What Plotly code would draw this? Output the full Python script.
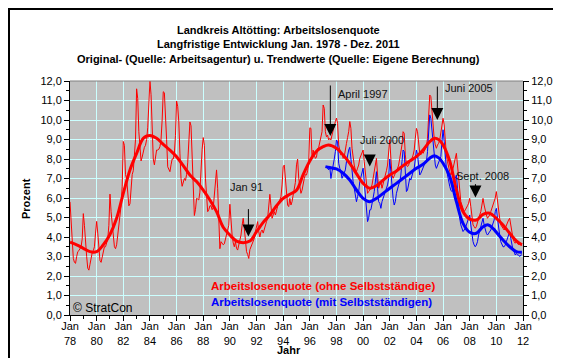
import plotly.graph_objects as go

# ---------------- data ----------------
# Monthly unemployment rate, red: "ohne Selbstständige", Jan 1978 - Dec 2011
red_monthly = [
    5.8, 4.9, 3.9, 2.9, 2.7, 2.65, 3.0, 3.25, 3.3, 3.4, 3.5, 3.9,          # 1978
    5.2, 4.6, 3.6, 3.0, 2.4, 2.3, 2.6, 3.0, 3.2, 3.3, 3.5, 4.2,            # 1979
    4.8, 4.2, 3.4, 2.8, 2.7, 3.0, 3.3, 3.5, 3.5, 3.7, 3.9, 4.6,            # 1980
    6.2, 5.3, 4.6, 3.9, 3.5, 3.4, 3.6, 4.1, 4.6, 4.9, 5.6, 6.6,            # 1981
    8.9, 8.7, 7.2, 7.0, 6.3, 5.6, 5.7, 6.5, 7.2, 7.4, 8.0, 9.0,            # 1982
    11.6, 11.1, 9.4, 8.6, 7.9, 8.1, 8.4, 8.6, 8.7, 9.0, 9.6, 10.5,         # 1983
    12.0, 11.3, 9.5, 8.0, 7.7, 8.0, 8.46, 8.46, 8.5, 8.63, 9.0, 10.0,      # 1984
    11.45, 11.4, 10.4, 9.0, 7.6, 7.5, 7.35, 7.7, 8.0, 8.0, 8.3, 9.2,       # 1985
    10.97, 10.7, 9.9, 8.3, 7.0, 6.6, 6.8, 7.0, 6.9, 7.2, 7.8, 8.9,         # 1986
    9.9, 9.7, 7.8, 6.3, 5.1, 5.4, 5.98, 5.95, 5.9, 6.3, 7.86, 8.5,         # 1987
    9.1, 8.7, 7.0, 5.98, 5.3, 5.4, 5.6, 5.6, 5.4, 5.5, 6.2, 7.2,           # 1988
    7.44, 6.5, 5.0, 3.4, 3.76, 3.7, 3.6, 3.65, 3.9, 4.2, 4.4, 4.6,         # 1989
    5.68, 4.6, 4.1, 3.7, 3.5, 3.76, 3.42, 3.33, 3.6, 3.9, 4.1, 4.6,        # 1990
    4.96, 4.44, 3.6, 3.25, 3.1, 2.9, 3.35, 3.5, 3.6, 3.76, 3.93, 4.27,     # 1991
    4.58, 4.79, 4.27, 4.0, 4.27, 4.36, 4.2, 4.44, 4.7, 4.79, 4.96, 5.6,    # 1992
    6.19, 5.6, 4.96, 5.13, 5.3, 5.13, 5.38, 5.56, 5.8, 5.9, 6.07, 6.67,    # 1993
    7.6, 7.69, 7.0, 6.3, 5.64, 5.56, 5.98, 5.64, 5.81, 6.15, 6.4, 6.8,     # 1994
    7.7, 8.0, 7.0, 6.67, 6.24, 6.4, 6.84, 7.0, 7.2, 7.18, 7.4, 7.8,        # 1995
    9.6, 9.57, 8.03, 8.46, 8.2, 8.03, 8.1, 8.5, 8.6, 8.9, 9.0, 9.4,        # 1996
    10.77, 10.6, 9.4, 9.14, 9.22, 8.98, 9.06, 8.98, 9.23, 9.5, 9.7, 9.92,  # 1997
    10.1, 9.83, 8.72, 8.46, 8.2, 8.29, 8.03, 8.12, 8.38, 8.8, 9.1, 9.4,    # 1998
    9.92, 9.57, 8.55, 8.03, 7.69, 7.44, 7.35, 7.53, 7.69, 8.03, 8.2, 8.38, # 1999
    8.46, 7.86, 7.35, 6.5, 6.24, 6.33, 6.41, 6.5, 6.67, 7.01, 7.52, 7.8,   # 2000
    8.03, 7.18, 6.5, 6.67, 6.84, 6.5, 6.7, 7.01, 7.18, 7.4, 7.69, 8.2,     # 2001
    9.0, 8.04, 7.18, 7.01, 7.18, 7.27, 7.35, 7.52, 7.69, 8.03, 8.4, 8.72,  # 2002
    9.4, 9.32, 8.21, 7.69, 7.61, 7.69, 7.86, 7.95, 8.03, 8.2, 8.46, 9.06,  # 2003
    9.57, 9.4, 8.72, 8.29, 8.21, 8.38, 8.29, 8.38, 8.5, 8.63, 9.06, 10.4,  # 2004
    11.28, 11.2, 10.43, 9.92, 9.06, 8.72, 8.55, 8.72, 8.8, 8.98, 9.3, 9.66,  # 2005
    10.09, 9.75, 8.72, 8.21, 7.86, 7.52, 7.35, 7.18, 7.3, 7.52, 7.8, 8.04,   # 2006
    8.29, 7.69, 7.01, 6.33, 5.81, 5.64, 5.39, 5.3, 5.39, 5.47, 5.6, 5.73,    # 2007
    5.98, 5.56, 4.96, 4.62, 4.53, 4.45, 4.53, 4.79, 4.96, 5.13, 5.3, 5.64,   # 2008
    5.98, 5.64, 5.3, 5.13, 4.96, 5.04, 5.13, 5.3, 5.47, 5.6, 5.81, 6.0,      # 2009
    6.33, 5.81, 5.3, 4.96, 4.62, 4.53, 4.45, 4.36, 4.45, 4.62, 4.75, 4.87,   # 2010
    4.96, 4.62, 4.1, 3.93, 3.76, 3.68, 3.76, 3.68, 3.6, 3.68, 3.6, 3.55,     # 2011
]
red_start = (1978, 1)

# Monthly unemployment rate, blue: "mit Selbstständigen", Apr 1997 - Dec 2011
blue_monthly = [
    7.6, 7.5, 7.44, 7.6, 7.0, 7.35, 7.6, 8.0, 8.38,                         # 1997 (Apr-Dec)
    8.97, 8.89, 7.78, 7.52, 7.35, 7.01, 7.18, 7.35, 7.44, 7.86, 8.2, 8.46,  # 1998
    8.6, 8.03, 7.18, 6.84, 6.5, 5.98, 5.81, 6.07, 6.33, 6.84, 7.1, 7.35,    # 1999
    7.53, 6.84, 5.98, 5.3, 4.79, 4.96, 5.39, 5.4, 5.64, 6.0, 6.33, 7.01,    # 2000
    7.35, 6.5, 5.81, 5.73, 5.47, 5.81, 6.0, 6.15, 6.33, 6.5, 6.67, 7.01,    # 2001
    8.0, 7.35, 6.5, 5.98, 5.64, 5.81, 6.24, 6.5, 6.67, 6.84, 7.18, 7.86,    # 2002
    8.46, 8.38, 7.01, 6.33, 6.41, 6.67, 7.01, 6.92, 7.18, 7.35, 7.52, 8.03, # 2003
    8.46, 8.21, 7.52, 7.18, 7.27, 7.44, 7.61, 7.69, 7.8, 7.86, 8.38, 9.57,  # 2004
    10.26, 10.09, 9.4, 8.72, 8.03, 7.69, 7.52, 7.69, 7.86, 8.0, 8.12, 8.89, # 2005
    9.5, 8.89, 8.03, 7.52, 7.18, 6.84, 6.6, 6.4, 6.33, 6.5, 6.67, 7.01,     # 2006
    7.18, 6.5, 5.64, 4.96, 4.62, 4.45, 4.28, 4.36, 4.45, 4.62, 4.8, 4.96,   # 2007
    5.13, 4.62, 4.1, 3.76, 3.59, 3.5, 3.59, 3.76, 4.1, 4.3, 4.45, 4.62,     # 2008
    4.96, 4.62, 4.36, 4.19, 4.1, 4.19, 4.28, 4.36, 4.53, 4.7, 4.87, 5.3,    # 2009
    5.47, 4.96, 4.36, 4.1, 3.76, 3.59, 3.5, 3.5, 3.59, 3.76, 3.95, 4.1,     # 2010
    4.27, 3.93, 3.5, 3.33, 3.25, 3.08, 3.16, 3.08, 3.08, 3.0, 3.08, 3.08,   # 2011
]
blue_start = (1997, 4)

# Trend values (own calculation), read at decimal-year points
red_trend_t = [1978.0, 1978.5, 1979.0, 1979.5, 1980.0, 1980.5, 1981.0, 1981.5, 1982.0, 1982.5,
               1983.0, 1983.5, 1984.0, 1984.5, 1985.0, 1985.5, 1986.0, 1986.5, 1987.0, 1987.5,
               1988.0, 1988.5, 1989.0, 1989.5, 1990.0, 1990.5, 1991.0, 1991.5, 1992.0, 1992.5,
               1993.0, 1993.5, 1994.0, 1994.5, 1995.0, 1995.5, 1996.0, 1996.5, 1997.0, 1997.4,
               1998.0, 1998.5, 1999.0, 1999.5, 2000.0, 2000.5, 2001.0, 2001.5, 2002.0, 2002.5,
               2003.0, 2003.5, 2004.0, 2004.5, 2005.0, 2005.35, 2005.7, 2006.0, 2006.5, 2007.0,
               2007.5, 2008.0, 2008.5, 2009.0, 2009.5, 2010.0, 2010.5, 2011.0, 2011.5, 2011.92]
red_trend_v = [3.73, 3.6, 3.42, 3.25, 3.25, 3.6, 4.13, 4.96, 6.24, 7.44,
               8.29, 9.06, 9.2, 9.06, 8.75, 8.46, 8.12, 7.66, 7.18, 6.84,
               6.41, 5.9, 5.3, 4.5, 4.1, 3.79, 3.71, 3.79, 4.27, 4.75,
               5.13, 5.6, 5.98, 6.19, 6.4, 7.2, 7.9, 8.4, 8.63, 8.72,
               8.55, 8.2, 7.78, 7.25, 6.75, 6.5, 6.63, 6.92, 7.18, 7.39,
               7.66, 7.9, 8.12, 8.46, 8.89, 9.06, 8.98, 8.72, 7.9, 6.41,
               5.3, 4.92, 4.87, 5.16, 5.22, 4.96, 4.62, 4.19, 3.8, 3.6]

blue_trend_t = [1997.17, 1997.5, 1998.0, 1998.5, 1999.0, 1999.5, 2000.0, 2000.5, 2001.0, 2001.5,
                2002.0, 2002.5, 2003.0, 2003.5, 2004.0, 2004.5, 2005.0, 2005.35, 2005.7, 2006.0,
                2006.5, 2007.0, 2007.5, 2008.0, 2008.5, 2009.0, 2009.4, 2009.8, 2010.0, 2010.5,
                2011.0, 2011.5, 2011.92]
blue_trend_v = [7.61, 7.56, 7.49, 7.27, 6.92, 6.41, 5.98, 5.81, 5.98, 6.24,
                6.5, 6.75, 7.01, 7.27, 7.52, 7.73, 8.04, 8.17, 8.04, 7.78,
                7.1, 5.81, 4.7, 4.24, 4.19, 4.53, 4.62, 4.4, 4.24, 3.85,
                3.5, 3.25, 3.22]

# Axis ticks
x_tick_years = list(range(1978, 2013, 2))
x_tick_labels = ["Jan<br>%02d" % (y % 100) for y in x_tick_years]

# Event annotations: (label, arrow x [year], arrow tip value, arrow length px, text x [year], text value)
events = [
    ("Jan 91",     1991.39, 4.02, 29, 1991.24, 6.55),
    ("April 1997", 1997.54, 9.18, 52, 1999.96, 11.33),
    ("Juli 2000",  2000.50, 7.61, 11, 2001.42, 8.97),
    ("Juni 2005",  2005.57, 10.0, 35, 2007.92, 11.63),
    ("Sept. 2008", 2008.43, 6.02, 15, 2008.97, 7.15),
]

title_lines = [
    "Landkreis Altötting: Arbeitslosenquote",
    "Langfristige Entwicklung Jan. 1978 - Dez. 2011",
    "Original- (Quelle: Arbeitsagentur) u. Trendwerte (Quelle: Eigene Berechnung)",
]
legend_red = "Arbeitslosenquote (ohne Selbstständige)"
legend_blue = "Arbeitslosenquote (mit Selbstständigen)"

# ---------------- layout geometry ----------------
W, H = 561, 358
ML, MR, MT, MB = 62, 46, 73, 51
PW, PH = W - ML - MR, H - MT - MB
FONT = "Liberation Sans, Arial, sans-serif"


def px(xp):
    return (xp - ML) / PW


def py(yp):
    return (H - MB - yp) / PH


def month_x(start, n):
    y0, m0 = start
    return [y0 + (m0 - 1 + i) / 12 for i in range(n)]


red_x = month_x(red_start, len(red_monthly))
blue_x = month_x(blue_start, len(blue_monthly))

fig = go.Figure()
fig.add_trace(go.Scatter(x=red_x, y=red_monthly, mode="lines",
                         line=dict(color="#FF0000", width=1), hoverinfo="skip"))
fig.add_trace(go.Scatter(x=blue_x, y=blue_monthly, mode="lines",
                         line=dict(color="#0000FF", width=1), hoverinfo="skip"))
fig.add_trace(go.Scatter(x=red_trend_t, y=red_trend_v, mode="lines",
                         line=dict(color="#FF0000", width=3, shape="spline", smoothing=1.0),
                         hoverinfo="skip"))
fig.add_trace(go.Scatter(x=blue_trend_t, y=blue_trend_v, mode="lines",
                         line=dict(color="#0000FF", width=3, shape="spline", smoothing=1.0),
                         hoverinfo="skip"))
# invisible trace to show the right-hand axis
fig.add_trace(go.Scatter(x=[red_x[0]], y=[red_monthly[0]], yaxis="y2", mode="markers",
                         marker=dict(opacity=0), hoverinfo="skip"))

annotations = []
for i, line in enumerate(title_lines):
    annotations.append(dict(text="<b>%s</b>" % line, xref="paper", yref="paper",
                            x=px(270.5), y=py([21.7, 36.2, 51][i]), showarrow=False,
                            xanchor="center", yanchor="middle",
                            font=dict(family=FONT, size=11, color="#000000")))

for label, ax_x, tip_v, length, tx, tv in events:
    annotations.append(dict(x=ax_x, y=tip_v, xref="x", yref="y", text="", showarrow=True,
                            ax=0, ay=-length, arrowhead=2, arrowsize=2.4, arrowwidth=1,
                            arrowcolor="#000000"))
    annotations.append(dict(x=tx, y=tv, xref="x", yref="y", text=label, showarrow=False,
                            xanchor="center", yanchor="middle",
                            font=dict(family=FONT, size=11, color="#111111")))

annotations += [
    dict(text="<b>%s</b>" % legend_red, xref="paper", yref="paper", x=px(201), y=py(277.5),
         showarrow=False, xanchor="left", yanchor="middle",
         font=dict(family=FONT, size=11.5, color="#FF0000")),
    dict(text="<b>%s</b>" % legend_blue, xref="paper", yref="paper", x=px(201), y=py(293.5),
         showarrow=False, xanchor="left", yanchor="middle",
         font=dict(family=FONT, size=11.5, color="#0000FF")),
    dict(text="© StratCon", xref="paper", yref="paper", x=px(63), y=py(299.5),
         showarrow=False, xanchor="left", yanchor="middle",
         font=dict(family=FONT, size=12, color="#000000")),
    dict(text="<b>Prozent</b>", xref="paper", yref="paper", x=px(18), y=py(191),
         showarrow=False, textangle=-90, xanchor="center", yanchor="middle",
         font=dict(family=FONT, size=11, color="#000000")),
    dict(text="<b>Jahr</b>", xref="paper", yref="paper", x=px(281), y=py(342),
         showarrow=False, xanchor="center", yanchor="middle",
         font=dict(family=FONT, size=11, color="#000000")),
]

shapes = [
    # outer chart frame
    dict(type="rect", xref="paper", yref="paper", x0=px(1), x1=px(559.5), y0=py(357), y1=py(1),
         line=dict(color="#000000", width=2), fillcolor="rgba(0,0,0,0)", layer="above"),
    # top border of plot area
    dict(type="line", xref="paper", yref="paper", x0=0, x1=1, y0=1, y1=1,
         line=dict(color="#808080", width=1)),
]

axis_font = dict(family=FONT, size=11, color="#000000")
yaxis_common = dict(range=[0, 12], tickmode="linear", tick0=0, dtick=1, tickformat=".1f",
                    ticks="outside", ticklen=5, tickcolor="#000000", tickwidth=1,
                    showline=True, linecolor="#000000", linewidth=1, zeroline=False,
                    tickfont=axis_font, fixedrange=True,
                    minor=dict(tick0=0, dtick=0.5, ticks="outside", ticklen=3,
                               tickcolor="#000000", showgrid=False))

fig.update_layout(
    width=W, height=H,
    margin=dict(l=ML, r=MR, t=MT, b=MB),
    paper_bgcolor="#FFFFFF", plot_bgcolor="#C0C0C0",
    separators=",.",
    showlegend=False,
    font=dict(family=FONT, size=11, color="#000000"),
    xaxis=dict(range=[1978, 2012], tickmode="array", tickvals=x_tick_years,
               ticktext=x_tick_labels, ticks="outside", ticklen=5, tickcolor="#000000",
               showline=True, linecolor="#000000", linewidth=1, zeroline=False,
               showgrid=True, gridcolor="#CCFFFF", gridwidth=1, tickfont=axis_font,
               ticklabelstandoff=-4, fixedrange=True,
               minor=dict(tickmode="array", tickvals=list(range(1979, 2012, 2)),
                          ticks="outside", ticklen=3, tickcolor="#000000", showgrid=False)),
    yaxis=dict(showgrid=True, gridcolor="#CCFFFF", gridwidth=1, **yaxis_common),
    yaxis2=dict(overlaying="y", side="right", showgrid=False, **yaxis_common),
    annotations=annotations,
    shapes=shapes,
)

fig.write_html("out.html")
